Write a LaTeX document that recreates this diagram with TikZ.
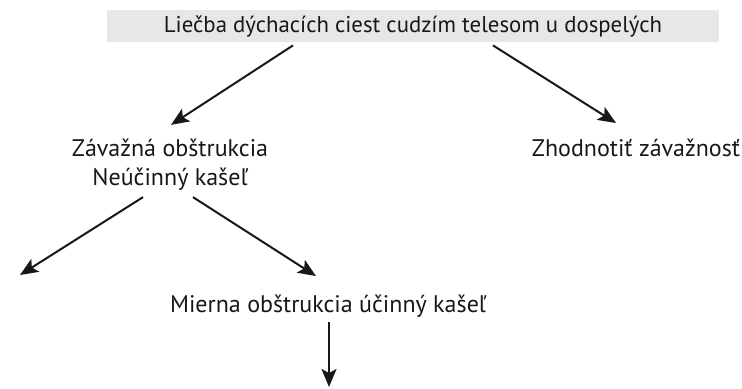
\documentclass[tikz,border=0pt]{standalone}
\usepackage{fontspec}
\setmainfont{PT Sans}
\usepackage{tikz}
\usetikzlibrary{arrows.meta}
\definecolor{pasik}{HTML}{E6E7E8}
\definecolor{tmava}{HTML}{1A1718}

\begin{document}
\begin{tikzpicture}[x=0.5pt,y=-0.5pt,font=\fontsize{12}{14.5}\selectfont,
    sipka/.style={-{Stealth[length=9pt,width=7.5pt,inset=2pt]},line width=1pt,color=tmava},
    popis/.style={inner sep=0pt,text=tmava,align=center}]
        \useasboundingbox (0,0) rectangle (742,388);
        \node[fill=pasik,minimum width=306pt,minimum height=16pt,inner sep=0pt,text=tmava,font=\fontsize{11.4}{14}\selectfont] (liecba) at (413,26) {Liečba dýchacích ciest cudzím telesom u dospelých};
        \node[popis] (zavazna) at (170,165) {Závažná obštrukcia\\Neúčinný kašeľ};
        \node[popis,anchor=base] (zhodnotit) at (636,156) {Zhodnotiť závažnosť};
        \node[popis,anchor=base] (mierna) at (328,312) {Mierna obštrukcia účinný kašeľ};
        \coordinate (vlavo) at (20,275);
        \coordinate (dole) at (329,387);
        % sipky
        \draw[sipka] ([xshift=-60pt,yshift=-1.5pt]liecba.south) -- ([xshift=0.5pt,yshift=7pt]zavazna.north);
        \draw[sipka] ([xshift=40pt,yshift=-1.5pt]liecba.south) -- ([xshift=-10pt,yshift=7.5pt]zhodnotit.north);
        \draw[sipka] ([xshift=-13.5pt,yshift=-3pt]zavazna.south) -- (vlavo);
        \draw[sipka] ([xshift=11.5pt,yshift=-3pt]zavazna.south) -- ([xshift=-6pt,yshift=9pt]mierna.north);
        \draw[sipka] ([xshift=0.5pt,yshift=-2.5pt]mierna.south) -- (dole);
\end{tikzpicture}
\end{document}
